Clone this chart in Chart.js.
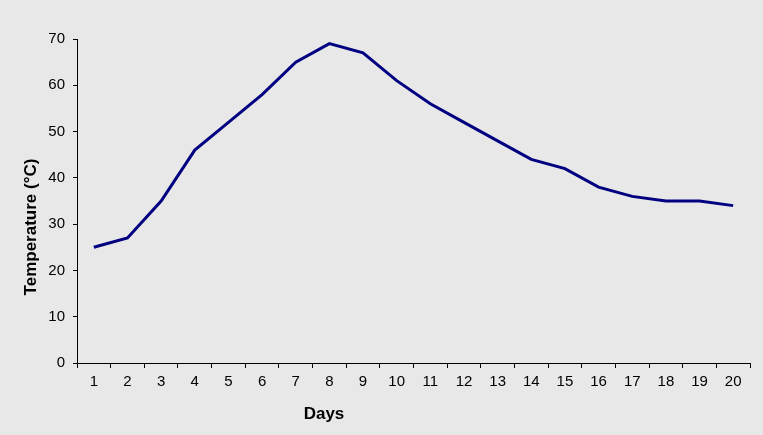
<!DOCTYPE html>
<html lang="en">
<head>
    <meta charset="UTF-8">
    <title>Temperature by Day</title>
    <script src="https://cdn.jsdelivr.net/npm/chart.js"></script>
    <style>
        html, body { margin: 0; padding: 0; background: #e8e8e8; }
        #wrap { width: 763px; height: 435px; }
    </style>
</head>
<body>
    <div id="wrap"><canvas id="tempChart" width="763" height="435"></canvas></div>
    <script>
        const days = ['1', '2', '3', '4', '5', '6', '7', '8', '9', '10',
                      '11', '12', '13', '14', '15', '16', '17', '18', '19', '20'];
        const temperatures = [25, 27, 35, 46, 52, 58, 65, 69, 67, 61,
                              56, 52, 48, 44, 42, 38, 36, 35, 35, 34];
        const xTitle = 'Days';
        const yTitle = 'Temperature (\u00B0C)';

        // axis titles drawn by hand so they sit where the original has them
        const titles = {
            id: 'titles',
            afterDraw(chart) {
                const ctx = chart.ctx;
                ctx.save();
                ctx.fillStyle = '#000';
                ctx.font = 'bold 17px "Liberation Sans", Arial, sans-serif';
                ctx.textAlign = 'center';
                ctx.textBaseline = 'middle';
                ctx.fillText(xTitle, 324, 414);
                ctx.translate(31, 227);
                ctx.rotate(-Math.PI / 2);
                ctx.fillText(yTitle, 0, 0);
                ctx.restore();
            }
        };

        const ctx = document.getElementById('tempChart').getContext('2d');
        new Chart(ctx, {
            type: 'line',
            data: {
                labels: days,
                datasets: [{
                    data: temperatures,
                    borderColor: '#000080',
                    borderWidth: 3,
                    pointRadius: 0,
                    tension: 0,
                    fill: false
                }]
            },
            options: {
                responsive: false,
                animation: false,
                layout: { padding: { left: 40, right: 13, top: 39, bottom: 0 } },
                plugins: {
                    legend: { display: false },
                    tooltip: { enabled: false }
                },
                scales: {
                    x: {
                        offset: true,
                        grid: {
                            offset: true,
                            drawOnChartArea: false,
                            drawTicks: true,
                            tickLength: 5,
                            color: '#000'
                        },
                        border: { color: '#000', width: 1 },
                        ticks: {
                            color: '#000',
                            font: { family: '"Liberation Sans", Arial, sans-serif', size: 15 },
                            maxRotation: 0,
                            autoSkip: false,
                            padding: 5
                        },
                        afterFit: s => { s.height = 72; }
                    },
                    y: {
                        min: 0,
                        max: 70,
                        grid: {
                            drawOnChartArea: false,
                            drawTicks: true,
                            tickLength: 4,
                            color: '#000'
                        },
                        border: { color: '#000', width: 1 },
                        ticks: {
                            stepSize: 10,
                            color: '#000',
                            font: { family: '"Liberation Sans", Arial, sans-serif', size: 15 },
                            padding: 8
                        },
                        afterFit: s => { s.width = 37; }
                    }
                }
            },
            plugins: [titles]
        });
    </script>
</body>
</html>
